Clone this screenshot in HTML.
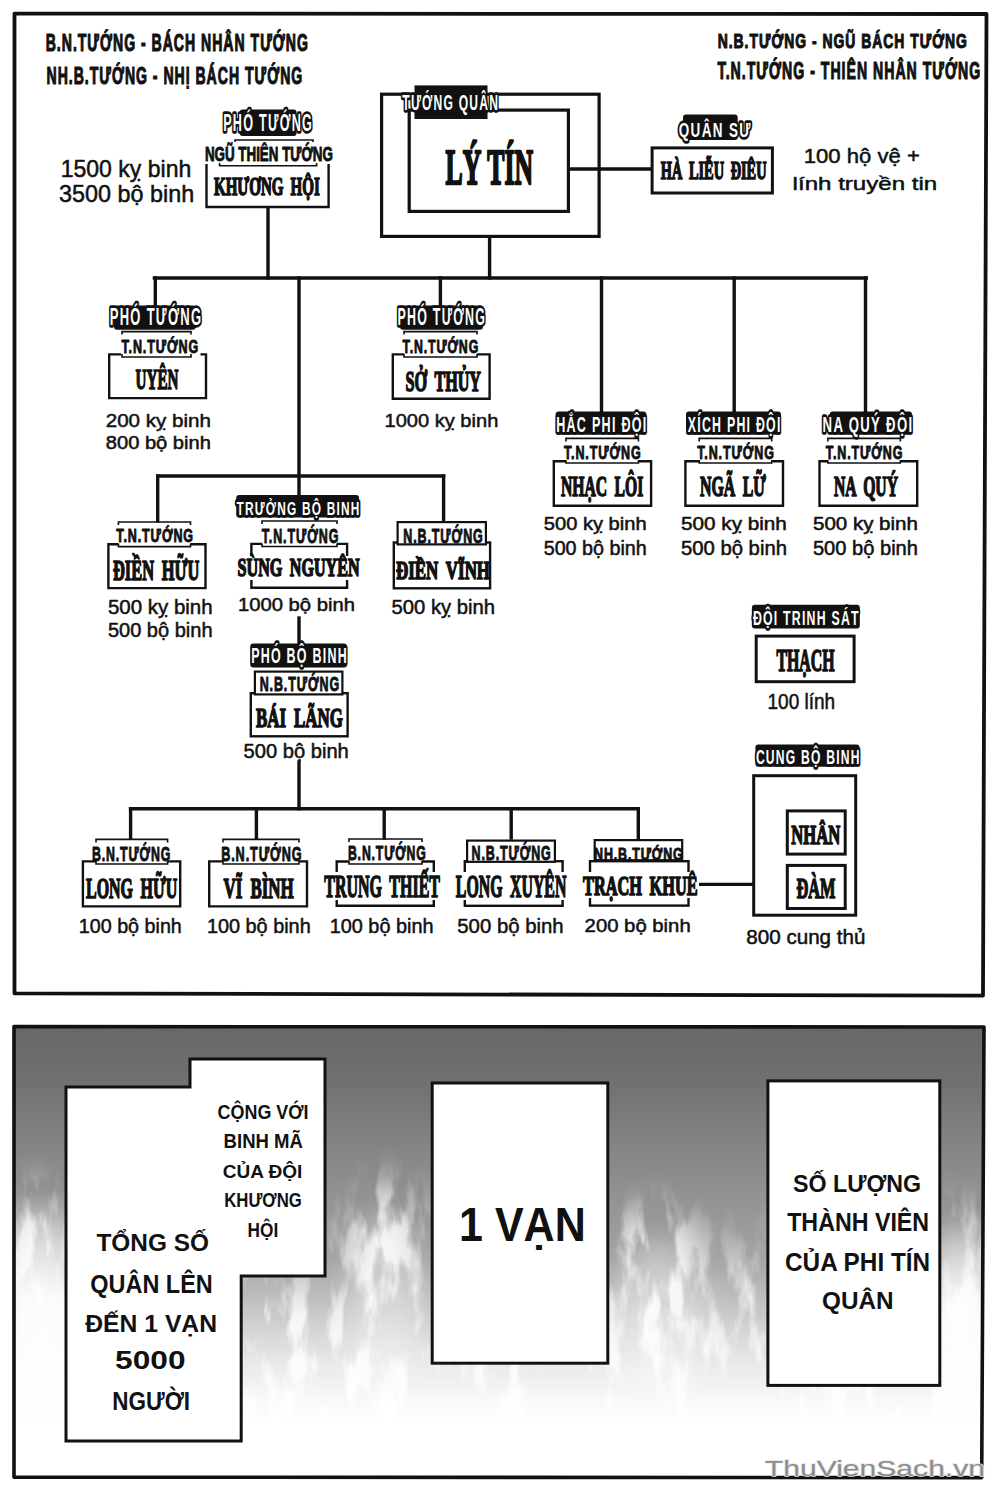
<!DOCTYPE html>
<html><head><meta charset="utf-8"><title>Phi Tin Quan</title>
<style>
html,body{margin:0;padding:0;background:#fff;width:999px;height:1492px;overflow:hidden;}
svg{display:block;}

</style></head><body>
<svg width="999" height="1492" viewBox="0 0 999 1492">

<defs>
<linearGradient id="bg" x1="0" y1="1026" x2="0" y2="1478" gradientUnits="userSpaceOnUse">
<stop offset="0" stop-color="#676767"/>
<stop offset="0.119" stop-color="#707070"/>
<stop offset="0.230" stop-color="#808080"/>
<stop offset="0.319" stop-color="#8b8b8b"/>
<stop offset="0.429" stop-color="#999999"/>
<stop offset="0.518" stop-color="#a6a6a6"/>
<stop offset="0.606" stop-color="#bfbfbf"/>
<stop offset="0.695" stop-color="#dbdbdb"/>
<stop offset="0.761" stop-color="#ececec"/>
<stop offset="0.827" stop-color="#f8f8f8"/>
<stop offset="0.883" stop-color="#ffffff"/>
<stop offset="1" stop-color="#ffffff"/>
</linearGradient>
<linearGradient id="fm" x1="0" y1="1200" x2="0" y2="1400" gradientUnits="userSpaceOnUse">
<stop offset="0" stop-color="#000"/>
<stop offset="0.5" stop-color="#666"/>
<stop offset="0.9" stop-color="#fff"/>
<stop offset="1" stop-color="#fff"/>
</linearGradient>
<filter id="mblur" x="-50%" y="-50%" width="200%" height="200%"><feGaussianBlur stdDeviation="18"/></filter>
<mask id="flmask" maskUnits="userSpaceOnUse" x="14" y="1100" width="970" height="380">
<rect x="14" y="1100" width="970" height="380" fill="url(#fm)"/>
<g fill="#fff" filter="url(#mblur)">
<ellipse cx="38" cy="1270" rx="35" ry="85"/>
<ellipse cx="385" cy="1285" rx="42" ry="105"/>
<ellipse cx="655" cy="1300" rx="50" ry="95"/>
<ellipse cx="962" cy="1275" rx="28" ry="75"/>
<ellipse cx="290" cy="1345" rx="45" ry="55"/>
<ellipse cx="752" cy="1300" rx="18" ry="45"/>
</g>
</mask>
<filter id="flame" x="14" y="1100" width="970" height="380" filterUnits="userSpaceOnUse">
<feTurbulence type="fractalNoise" baseFrequency="0.045 0.014" numOctaves="4" seed="7" result="n"/>
<feColorMatrix in="n" type="matrix" values="0 0 0 0 1  0 0 0 0 1  0 0 0 0 1  5 0 0 0 -2.3"/>
</filter>
<linearGradient id="edgeL" x1="0" y1="1190" x2="0" y2="1300" gradientUnits="userSpaceOnUse">
<stop offset="0" stop-color="#fff" stop-opacity="0"/>
<stop offset="1" stop-color="#fff" stop-opacity="0.92"/>
</linearGradient>
<linearGradient id="edgeR" x1="0" y1="1220" x2="0" y2="1315" gradientUnits="userSpaceOnUse">
<stop offset="0" stop-color="#fff" stop-opacity="0"/>
<stop offset="1" stop-color="#fff" stop-opacity="0.92"/>
</linearGradient>
<filter id="blur4" x="-20%" y="-20%" width="140%" height="140%"><feGaussianBlur stdDeviation="5"/></filter>
<filter id="blur8"><feGaussianBlur stdDeviation="14"/></filter>
</defs>
<path d="M14.5,13.6 L986.5,14 L983,995.6 L14.5,993.4 Z" fill="#fff" stroke="#111" stroke-width="3.8" stroke-linejoin="round"/>
<path d="M14,1026.6 L984,1027 L981.7,1477.6 L14,1477.2 Z" fill="url(#bg)"/>
<g mask="url(#flmask)"><rect x="16" y="1100" width="966" height="376" fill="#fff" filter="url(#flame)" opacity="0.85"/><g filter="url(#blur8)" fill="#fff" opacity="0.35"><ellipse cx="40" cy="1300" rx="30" ry="90"/><ellipse cx="385" cy="1300" rx="40" ry="90"/><ellipse cx="660" cy="1320" rx="50" ry="80"/><ellipse cx="960" cy="1300" rx="25" ry="80"/></g></g>
<g filter="url(#blur4)"><rect x="10" y="1190" width="62" height="290" fill="url(#edgeL)"/><rect x="936" y="1220" width="52" height="260" fill="url(#edgeR)"/></g>
<path d="M14,1026.6 L984,1027 L981.7,1477.6 L14,1477.2 Z" fill="none" stroke="#111" stroke-width="3.6" stroke-linejoin="round"/>
<text x="45.7" y="50.8" font-family='"Liberation Sans", sans-serif' font-weight="bold" font-size="23.26" textLength="263.2" lengthAdjust="spacingAndGlyphs" fill="#111" stroke="#111" stroke-width="1.1" stroke-linejoin="round" letter-spacing="1.63">B.N.TƯỚNG - BÁCH NHÂN TƯỚNG</text>
<text x="46.5" y="83.9" font-family='"Liberation Sans", sans-serif' font-weight="bold" font-size="23.69" textLength="256.7" lengthAdjust="spacingAndGlyphs" fill="#111" stroke="#111" stroke-width="1.1" stroke-linejoin="round" letter-spacing="1.66">NH.B.TƯỚNG - NHỊ BÁCH TƯỚNG</text>
<text x="717.7" y="48.2" font-family='"Liberation Sans", sans-serif' font-weight="bold" font-size="21.08" textLength="250.2" lengthAdjust="spacingAndGlyphs" fill="#111" stroke="#111" stroke-width="1.1" stroke-linejoin="round" letter-spacing="1.48">N.B.TƯỚNG - NGŨ BÁCH TƯỚNG</text>
<text x="717.6" y="78.7" font-family='"Liberation Sans", sans-serif' font-weight="bold" font-size="23.26" textLength="263.7" lengthAdjust="spacingAndGlyphs" fill="#111" stroke="#111" stroke-width="1.1" stroke-linejoin="round" letter-spacing="1.63">T.N.TƯỚNG - THIÊN NHÂN TƯỚNG</text>
<line x1="489.6" y1="238" x2="489.6" y2="278" stroke="#111" stroke-width="3.4" stroke-linecap="square"/>
<line x1="154.4" y1="278" x2="866.3" y2="278" stroke="#111" stroke-width="3.4" stroke-linecap="square"/>
<line x1="268" y1="207" x2="268" y2="278" stroke="#111" stroke-width="3.4" stroke-linecap="square"/>
<line x1="155.3" y1="278" x2="155.3" y2="306" stroke="#111" stroke-width="3.4" stroke-linecap="square"/>
<line x1="299" y1="278" x2="299" y2="496" stroke="#111" stroke-width="3.4" stroke-linecap="square"/>
<line x1="440.4" y1="278" x2="440.4" y2="306" stroke="#111" stroke-width="3.4" stroke-linecap="square"/>
<line x1="601.5" y1="278" x2="601.5" y2="412" stroke="#111" stroke-width="3.4" stroke-linecap="square"/>
<line x1="734.2" y1="278" x2="734.2" y2="412" stroke="#111" stroke-width="3.4" stroke-linecap="square"/>
<line x1="865.5" y1="278" x2="865.5" y2="412" stroke="#111" stroke-width="3.4" stroke-linecap="square"/>
<line x1="157.7" y1="476" x2="443.6" y2="476" stroke="#111" stroke-width="3.4" stroke-linecap="square"/>
<line x1="157.7" y1="476" x2="157.7" y2="521" stroke="#111" stroke-width="3.4" stroke-linecap="square"/>
<line x1="443.6" y1="476" x2="443.6" y2="521" stroke="#111" stroke-width="3.4" stroke-linecap="square"/>
<line x1="299" y1="618" x2="299" y2="644" stroke="#111" stroke-width="3.4" stroke-linecap="square"/>
<line x1="299" y1="762" x2="299" y2="808.7" stroke="#111" stroke-width="3.4" stroke-linecap="square"/>
<line x1="130.6" y1="808.7" x2="638.3" y2="808.7" stroke="#111" stroke-width="3.4" stroke-linecap="square"/>
<line x1="130.6" y1="808.7" x2="130.6" y2="838" stroke="#111" stroke-width="3.4" stroke-linecap="square"/>
<line x1="256.4" y1="808.7" x2="256.4" y2="838" stroke="#111" stroke-width="3.4" stroke-linecap="square"/>
<line x1="384.2" y1="808.7" x2="384.2" y2="838" stroke="#111" stroke-width="3.4" stroke-linecap="square"/>
<line x1="511.2" y1="808.7" x2="511.2" y2="838" stroke="#111" stroke-width="3.4" stroke-linecap="square"/>
<line x1="638.3" y1="808.7" x2="638.3" y2="838" stroke="#111" stroke-width="3.4" stroke-linecap="square"/>
<line x1="697" y1="884.4" x2="752.2" y2="884.4" stroke="#111" stroke-width="3.4" stroke-linecap="square"/>
<rect x="381.6" y="94.2" width="217.5" height="142.2" fill="#fff" stroke="#111" stroke-width="3.2"/>
<rect x="409.2" y="110.1" width="159.2" height="101.3" fill="#fff" stroke="#111" stroke-width="3.2"/>
<rect x="414.5" y="85.4" width="73.0" height="33.6" rx="0" fill="#111"/>
<text x="402.3" y="109.5" font-family='"Liberation Sans", sans-serif' font-weight="bold" font-size="22.53" textLength="96.8" lengthAdjust="spacingAndGlyphs" fill="#fff" stroke="#111" stroke-width="5.5" stroke-linejoin="round" paint-order="stroke" letter-spacing="2.25">TƯỚNG QUÂN</text>
<text x="445.5" y="183.6" font-family='"Liberation Serif", serif' font-weight="bold" font-size="50.53" textLength="87.5" lengthAdjust="spacingAndGlyphs" fill="#111" stroke="#111" stroke-width="2.4" stroke-linejoin="round">LÝ TÍN</text>
<line x1="570" y1="169" x2="650.6" y2="169" stroke="#111" stroke-width="3.4" stroke-linecap="square"/>
<rect x="239.7" y="109.6" width="56.9" height="26.4" rx="3" fill="#111"/>
<text x="223.2" y="131.0" font-family='"Liberation Sans", sans-serif' font-weight="bold" font-size="23.26" textLength="89.9" lengthAdjust="spacingAndGlyphs" fill="#fff" stroke="#111" stroke-width="5.5" stroke-linejoin="round" paint-order="stroke" letter-spacing="2.33">PHÓ TƯỚNG</text>
<path d="M206.5,164 V207 H328.6 V164" fill="#fff" stroke="#111" stroke-width="2.4"/>
<path d="M235,142 V140 H313 V142" fill="none" stroke="#111" stroke-width="1.6"/>
<path d="M219.6,163 V165.7 H316.6 V163" fill="none" stroke="#111" stroke-width="1.6"/>
<text x="204.9" y="161.0" font-family='"Liberation Sans", sans-serif' font-weight="bold" font-size="19.91" textLength="128.0" lengthAdjust="spacingAndGlyphs" fill="#111" stroke="#111" stroke-width="0.9" stroke-linejoin="round">NGŨ THIÊN TƯỚNG</text>
<text x="214.0" y="195.4" font-family='"Liberation Serif", serif' font-weight="bold" font-size="25.80" textLength="105.8" lengthAdjust="spacingAndGlyphs" fill="#111" stroke="#111" stroke-width="1.6" stroke-linejoin="round" word-spacing="5.7">KHƯƠNG HỘI</text>
<text x="60.7" y="177.0" font-family='"Liberation Sans", sans-serif' font-weight="normal" font-size="23.26" textLength="130.6" lengthAdjust="spacingAndGlyphs" fill="#111" stroke="#111" stroke-width="0.5" stroke-linejoin="round">1500 kỵ binh</text>
<text x="59.1" y="201.9" font-family='"Liberation Sans", sans-serif' font-weight="normal" font-size="23.40" textLength="135.2" lengthAdjust="spacingAndGlyphs" fill="#111" stroke="#111" stroke-width="0.5" stroke-linejoin="round">3500 bộ binh</text>
<rect x="683" y="114.4" width="54.7" height="25.6" rx="3" fill="#111"/>
<text x="678.8" y="137.0" font-family='"Liberation Sans", sans-serif' font-weight="bold" font-size="21.08" textLength="73.0" lengthAdjust="spacingAndGlyphs" fill="#fff" stroke="#111" stroke-width="5.5" stroke-linejoin="round" paint-order="stroke" letter-spacing="2.11">QUÂN SƯ</text>
<rect x="652.1" y="147.9" width="120.3" height="45.1" fill="#fff" stroke="#111" stroke-width="3.0"/>
<text x="660.8" y="178.5" font-family='"Liberation Serif", serif' font-weight="bold" font-size="24.43" textLength="105.7" lengthAdjust="spacingAndGlyphs" fill="#111" stroke="#111" stroke-width="1.6" stroke-linejoin="round" word-spacing="5.4">HÀ LIỄU ĐIÊU</text>
<text x="803.8" y="162.5" font-family='"Liberation Sans", sans-serif' font-weight="normal" font-size="21.08" textLength="116.0" lengthAdjust="spacingAndGlyphs" fill="#111" stroke="#111" stroke-width="0.5" stroke-linejoin="round">100 hộ vệ +</text>
<text x="792.6" y="189.7" font-family='"Liberation Sans", sans-serif' font-weight="normal" font-size="19.19" textLength="144.7" lengthAdjust="spacingAndGlyphs" fill="#111" stroke="#111" stroke-width="0.5" stroke-linejoin="round">lính truyền tin</text>
<rect x="114" y="305.6" width="81.7" height="24.1" rx="3" fill="#111"/>
<text x="109.7" y="325.0" font-family='"Liberation Sans", sans-serif' font-weight="bold" font-size="23.26" textLength="92.7" lengthAdjust="spacingAndGlyphs" fill="#fff" stroke="#111" stroke-width="5.5" stroke-linejoin="round" paint-order="stroke" letter-spacing="2.33">PHÓ TƯỚNG</text>
<path d="M121,354.4 H109.2 V398.1 H206.0 V354.4 H200.5" fill="#fff" stroke="#111" stroke-width="2.4"/>
<path d="M122,334.6 V331.6 H191 V334.6" fill="none" stroke="#111" stroke-width="1.6"/>
<path d="M122,354 V357 H191 V354" fill="none" stroke="#111" stroke-width="1.6"/>
<text x="121.4" y="352.5" font-family='"Liberation Sans", sans-serif' font-weight="bold" font-size="18.46" textLength="77.7" lengthAdjust="spacingAndGlyphs" fill="#111" stroke="#111" stroke-width="0.9" stroke-linejoin="round" letter-spacing="1.29">T.N.TƯỚNG</text>
<text x="135.6" y="388.5" font-family='"Liberation Serif", serif' font-weight="bold" font-size="29.31" textLength="42.8" lengthAdjust="spacingAndGlyphs" fill="#111" stroke="#111" stroke-width="1.6" stroke-linejoin="round" word-spacing="6.4">UYÊN</text>
<text x="105.7" y="427.0" font-family='"Liberation Sans", sans-serif' font-weight="normal" font-size="19.19" textLength="105.3" lengthAdjust="spacingAndGlyphs" fill="#111" stroke="#111" stroke-width="0.5" stroke-linejoin="round">200 kỵ binh</text>
<text x="105.8" y="448.6" font-family='"Liberation Sans", sans-serif' font-weight="normal" font-size="17.44" textLength="105.1" lengthAdjust="spacingAndGlyphs" fill="#111" stroke="#111" stroke-width="0.5" stroke-linejoin="round">800 bộ binh</text>
<rect x="400" y="305.6" width="83.0" height="24.1" rx="3" fill="#111"/>
<text x="397.5" y="325.0" font-family='"Liberation Sans", sans-serif' font-weight="bold" font-size="23.26" textLength="88.6" lengthAdjust="spacingAndGlyphs" fill="#fff" stroke="#111" stroke-width="5.5" stroke-linejoin="round" paint-order="stroke" letter-spacing="2.33">PHÓ TƯỚNG</text>
<path d="M404,354.4 H392.8 V398.8 H489.6 V354.4 H477" fill="#fff" stroke="#111" stroke-width="2.4"/>
<path d="M404,334.6 V331.6 H477 V334.6" fill="none" stroke="#111" stroke-width="1.6"/>
<path d="M404,354 V357 H477 V354" fill="none" stroke="#111" stroke-width="1.6"/>
<text x="402.6" y="352.5" font-family='"Liberation Sans", sans-serif' font-weight="bold" font-size="18.46" textLength="76.5" lengthAdjust="spacingAndGlyphs" fill="#111" stroke="#111" stroke-width="0.9" stroke-linejoin="round" letter-spacing="1.29">T.N.TƯỚNG</text>
<text x="405.6" y="391.0" font-family='"Liberation Serif", serif' font-weight="bold" font-size="29.47" textLength="75.4" lengthAdjust="spacingAndGlyphs" fill="#111" stroke="#111" stroke-width="1.6" stroke-linejoin="round" word-spacing="6.5">SỞ THỦY</text>
<text x="384.5" y="427.0" font-family='"Liberation Sans", sans-serif' font-weight="normal" font-size="19.19" textLength="113.8" lengthAdjust="spacingAndGlyphs" fill="#111" stroke="#111" stroke-width="0.5" stroke-linejoin="round">1000 kỵ binh</text>
<rect x="555.6" y="411.4" width="90.7" height="23.4" rx="3" fill="#111"/>
<text x="556.2" y="431.8" font-family='"Liberation Sans", sans-serif' font-weight="bold" font-size="22.67" textLength="91.4" lengthAdjust="spacingAndGlyphs" fill="#fff" stroke="#111" stroke-width="5.5" stroke-linejoin="round" paint-order="stroke" letter-spacing="2.27">HẮC PHI ĐỘI</text>
<path d="M565.95,461.2 H553.8000000000001 V505.7 H651.0999999999999 V461.2 H638.95" fill="#fff" stroke="#111" stroke-width="2.4"/>
<path d="M565.95,441.4 V438.4 H638.45 V441.4" fill="none" stroke="#111" stroke-width="1.6"/>
<path d="M565.95,460 V463 H638.45 V460" fill="none" stroke="#111" stroke-width="1.6"/>
<text x="563.9" y="458.9" font-family='"Liberation Sans", sans-serif' font-weight="bold" font-size="18.46" textLength="77.6" lengthAdjust="spacingAndGlyphs" fill="#111" stroke="#111" stroke-width="0.9" stroke-linejoin="round" letter-spacing="1.29">T.N.TƯỚNG</text>
<text x="561.0" y="496.1" font-family='"Liberation Serif", serif' font-weight="bold" font-size="29.31" textLength="82.3" lengthAdjust="spacingAndGlyphs" fill="#111" stroke="#111" stroke-width="1.6" stroke-linejoin="round" word-spacing="6.4">NHẠC LÔI</text>
<text x="543.8" y="530.3" font-family='"Liberation Sans", sans-serif' font-weight="normal" font-size="17.44" textLength="102.8" lengthAdjust="spacingAndGlyphs" fill="#111" stroke="#111" stroke-width="0.5" stroke-linejoin="round">500 kỵ binh</text>
<text x="543.7" y="555.0" font-family='"Liberation Sans", sans-serif' font-weight="normal" font-size="19.33" textLength="103.0" lengthAdjust="spacingAndGlyphs" fill="#111" stroke="#111" stroke-width="0.5" stroke-linejoin="round">500 bộ binh</text>
<rect x="686" y="411.4" width="95.0" height="23.4" rx="3" fill="#111"/>
<text x="687.8" y="431.8" font-family='"Liberation Sans", sans-serif' font-weight="bold" font-size="22.67" textLength="93.8" lengthAdjust="spacingAndGlyphs" fill="#fff" stroke="#111" stroke-width="5.5" stroke-linejoin="round" paint-order="stroke" letter-spacing="2.27">XÍCH PHI ĐỘI</text>
<path d="M699.2,461.2 H685.4000000000001 V505.7 H783.0 V461.2 H772.2" fill="#fff" stroke="#111" stroke-width="2.4"/>
<path d="M699.2,441.4 V438.4 H771.7 V441.4" fill="none" stroke="#111" stroke-width="1.6"/>
<path d="M699.2,460 V463 H771.7 V460" fill="none" stroke="#111" stroke-width="1.6"/>
<text x="697.2" y="458.9" font-family='"Liberation Sans", sans-serif' font-weight="bold" font-size="18.46" textLength="77.6" lengthAdjust="spacingAndGlyphs" fill="#111" stroke="#111" stroke-width="0.9" stroke-linejoin="round" letter-spacing="1.29">T.N.TƯỚNG</text>
<text x="700.0" y="496.1" font-family='"Liberation Serif", serif' font-weight="bold" font-size="29.31" textLength="66.0" lengthAdjust="spacingAndGlyphs" fill="#111" stroke="#111" stroke-width="1.6" stroke-linejoin="round" word-spacing="6.4">NGÃ LỮ</text>
<text x="681.0" y="530.3" font-family='"Liberation Sans", sans-serif' font-weight="normal" font-size="17.44" textLength="105.9" lengthAdjust="spacingAndGlyphs" fill="#111" stroke="#111" stroke-width="0.5" stroke-linejoin="round">500 kỵ binh</text>
<text x="680.9" y="555.0" font-family='"Liberation Sans", sans-serif' font-weight="normal" font-size="19.33" textLength="106.1" lengthAdjust="spacingAndGlyphs" fill="#111" stroke="#111" stroke-width="0.5" stroke-linejoin="round">500 bộ binh</text>
<rect x="829.8" y="411.4" width="82.2" height="23.4" rx="3" fill="#111"/>
<text x="822.6" y="431.8" font-family='"Liberation Sans", sans-serif' font-weight="bold" font-size="22.67" textLength="90.8" lengthAdjust="spacingAndGlyphs" fill="#fff" stroke="#111" stroke-width="5.5" stroke-linejoin="round" paint-order="stroke" letter-spacing="2.27">NA QUÝ ĐỘI</text>
<path d="M827.8499999999999,461.2 H819.5 V505.7 H917.1999999999999 V461.2 H900.8499999999999" fill="#fff" stroke="#111" stroke-width="2.4"/>
<path d="M827.8499999999999,441.4 V438.4 H900.3499999999999 V441.4" fill="none" stroke="#111" stroke-width="1.6"/>
<path d="M827.8499999999999,460 V463 H900.3499999999999 V460" fill="none" stroke="#111" stroke-width="1.6"/>
<text x="825.8" y="458.9" font-family='"Liberation Sans", sans-serif' font-weight="bold" font-size="18.46" textLength="77.6" lengthAdjust="spacingAndGlyphs" fill="#111" stroke="#111" stroke-width="0.9" stroke-linejoin="round" letter-spacing="1.29">T.N.TƯỚNG</text>
<text x="834.0" y="496.1" font-family='"Liberation Serif", serif' font-weight="bold" font-size="29.31" textLength="64.0" lengthAdjust="spacingAndGlyphs" fill="#111" stroke="#111" stroke-width="1.6" stroke-linejoin="round" word-spacing="6.4">NA QUÝ</text>
<text x="813.0" y="530.3" font-family='"Liberation Sans", sans-serif' font-weight="normal" font-size="17.44" textLength="104.9" lengthAdjust="spacingAndGlyphs" fill="#111" stroke="#111" stroke-width="0.5" stroke-linejoin="round">500 kỵ binh</text>
<text x="812.9" y="555.0" font-family='"Liberation Sans", sans-serif' font-weight="normal" font-size="19.33" textLength="105.1" lengthAdjust="spacingAndGlyphs" fill="#111" stroke="#111" stroke-width="0.5" stroke-linejoin="round">500 bộ binh</text>
<path d="M118.4,544.2 H108.4 V588.0999999999999 H205.5 V544.2 H190.5" fill="#fff" stroke="#111" stroke-width="2.4"/>
<path d="M118.4,525 V522 H190.5 V525" fill="none" stroke="#111" stroke-width="1.6"/>
<path d="M118.4,543.6 V546.6 H190.5 V543.6" fill="none" stroke="#111" stroke-width="1.6"/>
<text x="116.3" y="542.0" font-family='"Liberation Sans", sans-serif' font-weight="bold" font-size="18.31" textLength="77.7" lengthAdjust="spacingAndGlyphs" fill="#111" stroke="#111" stroke-width="0.9" stroke-linejoin="round" letter-spacing="1.28">T.N.TƯỚNG</text>
<text x="113.0" y="579.8" font-family='"Liberation Serif", serif' font-weight="bold" font-size="28.70" textLength="86.3" lengthAdjust="spacingAndGlyphs" fill="#111" stroke="#111" stroke-width="1.6" stroke-linejoin="round" word-spacing="6.3">ĐIỀN HỮU</text>
<text x="107.9" y="613.5" font-family='"Liberation Sans", sans-serif' font-weight="normal" font-size="19.91" textLength="104.7" lengthAdjust="spacingAndGlyphs" fill="#111" stroke="#111" stroke-width="0.5" stroke-linejoin="round">500 kỵ binh</text>
<text x="107.9" y="636.6" font-family='"Liberation Sans", sans-serif' font-weight="normal" font-size="19.77" textLength="104.7" lengthAdjust="spacingAndGlyphs" fill="#111" stroke="#111" stroke-width="0.5" stroke-linejoin="round">500 bộ binh</text>
<rect x="236.2" y="495" width="122.8" height="22.5" rx="3" fill="#111"/>
<text x="236.5" y="514.6" font-family='"Liberation Sans", sans-serif' font-weight="bold" font-size="18.31" textLength="124.0" lengthAdjust="spacingAndGlyphs" fill="#fff" stroke="#111" stroke-width="5.5" stroke-linejoin="round" paint-order="stroke" letter-spacing="1.83">TRƯỞNG BỘ BINH</text>
<path d="M262,543.9000000000001 H251.39999999999998 V587.8 H347.1 V543.9000000000001 H337" fill="#fff" stroke="#111" stroke-width="2.4"/>
<path d="M262,524 V521 H337 V524" fill="none" stroke="#111" stroke-width="1.6"/>
<path d="M262,543.5 V546.5 H337 V543.5" fill="none" stroke="#111" stroke-width="1.6"/>
<text x="261.7" y="542.7" font-family='"Liberation Sans", sans-serif' font-weight="bold" font-size="20.35" textLength="77.6" lengthAdjust="spacingAndGlyphs" fill="#111" stroke="#111" stroke-width="0.9" stroke-linejoin="round" letter-spacing="1.42">T.N.TƯỚNG</text>
<rect x="237" y="556" width="123.0" height="24.0" fill="#fff"/>
<text x="237.6" y="576.3" font-family='"Liberation Serif", serif' font-weight="bold" font-size="25.65" textLength="121.9" lengthAdjust="spacingAndGlyphs" fill="#111" stroke="#111" stroke-width="1.6" stroke-linejoin="round" word-spacing="5.6">SÙNG NGUYÊN</text>
<text x="238.0" y="611.3" font-family='"Liberation Sans", sans-serif' font-weight="normal" font-size="18.31" textLength="117.0" lengthAdjust="spacingAndGlyphs" fill="#111" stroke="#111" stroke-width="0.5" stroke-linejoin="round">1000 bộ binh</text>
<rect x="393.8" y="542.5" width="96.3" height="45.8" fill="#fff" stroke="#111" stroke-width="2.4"/>
<rect x="397.6" y="522.1" width="88.3" height="22.3" fill="#fff" stroke="#111" stroke-width="2.2"/>
<text x="403.3" y="542.7" font-family='"Liberation Sans", sans-serif' font-weight="bold" font-size="20.35" textLength="80.4" lengthAdjust="spacingAndGlyphs" fill="#111" stroke="#111" stroke-width="0.9" stroke-linejoin="round" letter-spacing="1.42">N.B.TƯỚNG</text>
<text x="396.0" y="579.0" font-family='"Liberation Serif", serif' font-weight="bold" font-size="25.50" textLength="94.0" lengthAdjust="spacingAndGlyphs" fill="#111" stroke="#111" stroke-width="1.6" stroke-linejoin="round" word-spacing="5.6">ĐIỀN VĨNH</text>
<text x="391.5" y="613.6" font-family='"Liberation Sans", sans-serif' font-weight="normal" font-size="19.77" textLength="103.6" lengthAdjust="spacingAndGlyphs" fill="#111" stroke="#111" stroke-width="0.5" stroke-linejoin="round">500 kỵ binh</text>
<rect x="250.3" y="643.6" width="96.7" height="23.9" rx="3" fill="#111"/>
<text x="251.2" y="662.5" font-family='"Liberation Sans", sans-serif' font-weight="bold" font-size="21.37" textLength="96.7" lengthAdjust="spacingAndGlyphs" fill="#fff" stroke="#111" stroke-width="5.5" stroke-linejoin="round" paint-order="stroke" letter-spacing="2.14">PHÓ BỘ BINH</text>
<rect x="250.8" y="693.2" width="96.8" height="43.1" fill="#fff" stroke="#111" stroke-width="2.4"/>
<rect x="254.9" y="671.6" width="87.5" height="22.8" fill="#fff" stroke="#111" stroke-width="2.2"/>
<text x="259.7" y="691.3" font-family='"Liberation Sans", sans-serif' font-weight="bold" font-size="19.33" textLength="80.3" lengthAdjust="spacingAndGlyphs" fill="#111" stroke="#111" stroke-width="0.9" stroke-linejoin="round" letter-spacing="1.35">N.B.TƯỚNG</text>
<text x="256.0" y="727.0" font-family='"Liberation Serif", serif' font-weight="bold" font-size="27.79" textLength="86.8" lengthAdjust="spacingAndGlyphs" fill="#111" stroke="#111" stroke-width="1.6" stroke-linejoin="round" word-spacing="6.1">BÁI LÃNG</text>
<text x="243.6" y="757.8" font-family='"Liberation Sans", sans-serif' font-weight="normal" font-size="20.35" textLength="105.2" lengthAdjust="spacingAndGlyphs" fill="#111" stroke="#111" stroke-width="0.5" stroke-linejoin="round">500 bộ binh</text>
<path d="M96,861.4000000000001 H82.9 V906.4 H180.20000000000002 V861.4000000000001 H167.6" fill="#fff" stroke="#111" stroke-width="2.4"/>
<path d="M96,842.4 V839.4 H167.6 V842.4" fill="none" stroke="#111" stroke-width="1.6"/>
<path d="M96,861 V864 H167.6 V861" fill="none" stroke="#111" stroke-width="1.6"/>
<text x="91.9" y="861.0" font-family='"Liberation Sans", sans-serif' font-weight="bold" font-size="20.06" textLength="79.3" lengthAdjust="spacingAndGlyphs" fill="#111" stroke="#111" stroke-width="0.9" stroke-linejoin="round" letter-spacing="1.40">B.N.TƯỚNG</text>
<text x="86.0" y="898.0" font-family='"Liberation Serif", serif' font-weight="bold" font-size="29.92" textLength="91.2" lengthAdjust="spacingAndGlyphs" fill="#111" stroke="#111" stroke-width="1.6" stroke-linejoin="round" word-spacing="6.6">LONG HỮU</text>
<text x="78.8" y="933.0" font-family='"Liberation Sans", sans-serif' font-weight="normal" font-size="20.64" textLength="103.0" lengthAdjust="spacingAndGlyphs" fill="#111" stroke="#111" stroke-width="0.5" stroke-linejoin="round">100 bộ binh</text>
<path d="M223,861.4000000000001 H209.2 V906.4 H307.0 V861.4000000000001 H299" fill="#fff" stroke="#111" stroke-width="2.4"/>
<path d="M223,842.4 V839.4 H299 V842.4" fill="none" stroke="#111" stroke-width="1.6"/>
<path d="M223,861 V864 H299 V861" fill="none" stroke="#111" stroke-width="1.6"/>
<text x="221.2" y="861.0" font-family='"Liberation Sans", sans-serif' font-weight="bold" font-size="20.06" textLength="81.3" lengthAdjust="spacingAndGlyphs" fill="#111" stroke="#111" stroke-width="0.9" stroke-linejoin="round" letter-spacing="1.40">B.N.TƯỚNG</text>
<text x="223.6" y="898.0" font-family='"Liberation Serif", serif' font-weight="bold" font-size="29.92" textLength="70.2" lengthAdjust="spacingAndGlyphs" fill="#111" stroke="#111" stroke-width="1.6" stroke-linejoin="round" word-spacing="6.6">VĨ BÌNH</text>
<text x="206.9" y="933.0" font-family='"Liberation Sans", sans-serif' font-weight="normal" font-size="20.64" textLength="103.8" lengthAdjust="spacingAndGlyphs" fill="#111" stroke="#111" stroke-width="0.5" stroke-linejoin="round">100 bộ binh</text>
<path d="M349,861.5 H336.7 V905.8 H433.8 V861.5 H422" fill="#fff" stroke="#111" stroke-width="2.4"/>
<path d="M349,842 V839 H422 V842" fill="none" stroke="#111" stroke-width="1.6"/>
<path d="M349,861 V864 H422 V861" fill="none" stroke="#111" stroke-width="1.6"/>
<text x="347.9" y="860.3" font-family='"Liberation Sans", sans-serif' font-weight="bold" font-size="20.06" textLength="78.8" lengthAdjust="spacingAndGlyphs" fill="#111" stroke="#111" stroke-width="0.9" stroke-linejoin="round" letter-spacing="1.40">B.N.TƯỚNG</text>
<rect x="323" y="872" width="119.0" height="28.0" fill="#fff"/>
<text x="324.3" y="896.7" font-family='"Liberation Serif", serif' font-weight="bold" font-size="31.60" textLength="115.7" lengthAdjust="spacingAndGlyphs" fill="#111" stroke="#111" stroke-width="1.6" stroke-linejoin="round" word-spacing="7.0">TRUNG THIẾT</text>
<text x="329.7" y="933.0" font-family='"Liberation Sans", sans-serif' font-weight="normal" font-size="20.64" textLength="103.8" lengthAdjust="spacingAndGlyphs" fill="#111" stroke="#111" stroke-width="0.5" stroke-linejoin="round">100 bộ binh</text>
<rect x="464.8" y="861.2" width="97.8" height="44.6" fill="#fff" stroke="#111" stroke-width="2.4"/>
<rect x="467.1" y="840.6" width="87.8" height="21.2" fill="#fff" stroke="#111" stroke-width="2.2"/>
<text x="471.6" y="860.3" font-family='"Liberation Sans", sans-serif' font-weight="bold" font-size="20.06" textLength="80.1" lengthAdjust="spacingAndGlyphs" fill="#111" stroke="#111" stroke-width="0.9" stroke-linejoin="round" letter-spacing="1.40">N.B.TƯỚNG</text>
<rect x="455" y="872" width="112.0" height="28.0" fill="#fff"/>
<text x="455.8" y="896.7" font-family='"Liberation Serif", serif' font-weight="bold" font-size="31.60" textLength="110.6" lengthAdjust="spacingAndGlyphs" fill="#111" stroke="#111" stroke-width="1.6" stroke-linejoin="round" word-spacing="7.0">LONG XUYÊN</text>
<text x="457.3" y="933.0" font-family='"Liberation Sans", sans-serif' font-weight="normal" font-size="20.64" textLength="106.4" lengthAdjust="spacingAndGlyphs" fill="#111" stroke="#111" stroke-width="0.5" stroke-linejoin="round">500 bộ binh</text>
<rect x="590.0" y="861.2" width="98.5" height="44.4" fill="#fff" stroke="#111" stroke-width="2.4"/>
<rect x="594.7" y="840.1" width="87.5" height="20.1" fill="#fff" stroke="#111" stroke-width="2.2"/>
<text x="594.1" y="859.7" font-family='"Liberation Sans", sans-serif' font-weight="bold" font-size="17.15" textLength="89.5" lengthAdjust="spacingAndGlyphs" fill="#111" stroke="#111" stroke-width="0.9" stroke-linejoin="round" letter-spacing="1.20">NH.B.TƯỚNG</text>
<rect x="582" y="872" width="117.0" height="26.0" fill="#fff"/>
<text x="583.0" y="895.0" font-family='"Liberation Serif", serif' font-weight="bold" font-size="27.02" textLength="114.7" lengthAdjust="spacingAndGlyphs" fill="#111" stroke="#111" stroke-width="1.6" stroke-linejoin="round" word-spacing="5.9">TRẠCH KHUÊ</text>
<text x="584.6" y="931.8" font-family='"Liberation Sans", sans-serif' font-weight="normal" font-size="18.60" textLength="106.1" lengthAdjust="spacingAndGlyphs" fill="#111" stroke="#111" stroke-width="0.5" stroke-linejoin="round">200 bộ binh</text>
<rect x="755.4" y="744.4" width="104.1" height="22.4" rx="3" fill="#111"/>
<text x="755.9" y="763.6" font-family='"Liberation Sans", sans-serif' font-weight="bold" font-size="19.91" textLength="104.8" lengthAdjust="spacingAndGlyphs" fill="#fff" stroke="#111" stroke-width="5.5" stroke-linejoin="round" paint-order="stroke" letter-spacing="1.99">CUNG BỘ BINH</text>
<rect x="753.7" y="775.7" width="102.0" height="139.5" fill="#fff" stroke="#111" stroke-width="3.0"/>
<rect x="787.3" y="810.9" width="57.9" height="43.2" fill="#fff" stroke="#111" stroke-width="3.0"/>
<rect x="787.3" y="865.4" width="57.9" height="43.1" fill="#fff" stroke="#111" stroke-width="3.0"/>
<text x="791.3" y="844.3" font-family='"Liberation Serif", serif' font-weight="bold" font-size="27.94" textLength="49.0" lengthAdjust="spacingAndGlyphs" fill="#111" stroke="#111" stroke-width="1.6" stroke-linejoin="round" word-spacing="6.1">NHÂN</text>
<text x="796.4" y="898.2" font-family='"Liberation Serif", serif' font-weight="bold" font-size="30.38" textLength="39.1" lengthAdjust="spacingAndGlyphs" fill="#111" stroke="#111" stroke-width="1.6" stroke-linejoin="round" word-spacing="6.7">ĐÀM</text>
<text x="746.3" y="944.0" font-family='"Liberation Sans", sans-serif' font-weight="normal" font-size="20.06" textLength="119.1" lengthAdjust="spacingAndGlyphs" fill="#111" stroke="#111" stroke-width="0.5" stroke-linejoin="round">800 cung thủ</text>
<rect x="751.9" y="604.7" width="107.9" height="23.8" rx="3" fill="#111"/>
<text x="752.9" y="625.0" font-family='"Liberation Sans", sans-serif' font-weight="bold" font-size="20.78" textLength="106.9" lengthAdjust="spacingAndGlyphs" fill="#fff" stroke="#111" stroke-width="5.5" stroke-linejoin="round" paint-order="stroke" letter-spacing="2.08">ĐỘI TRINH SÁT</text>
<rect x="756.2" y="636.1" width="97.9" height="45.6" fill="#fff" stroke="#111" stroke-width="3.0"/>
<text x="776.4" y="670.6" font-family='"Liberation Serif", serif' font-weight="bold" font-size="30.99" textLength="58.2" lengthAdjust="spacingAndGlyphs" fill="#111" stroke="#111" stroke-width="1.6" stroke-linejoin="round" word-spacing="6.8">THẠCH</text>
<text x="767.5" y="709.1" font-family='"Liberation Sans", sans-serif' font-weight="normal" font-size="21.37" textLength="67.6" lengthAdjust="spacingAndGlyphs" fill="#111" stroke="#111" stroke-width="0.5" stroke-linejoin="round">100 lính</text>
<path d="M66,1087 H190 V1059 H325 V1276 H241.2 V1441 H66 Z" fill="#fff" stroke="#111" stroke-width="3"/>
<rect x="432.2" y="1083.0" width="175.6" height="280.2" fill="#fff" stroke="#111" stroke-width="3.0"/>
<rect x="767.9" y="1080.9" width="171.9" height="304.5" fill="#fff" stroke="#111" stroke-width="3.0"/>
<text x="217.6" y="1118.7" font-family='"Liberation Sans", sans-serif' font-weight="bold" font-size="20.49" textLength="90.9" lengthAdjust="spacingAndGlyphs" fill="#111">CỘNG VỚI</text>
<text x="223.6" y="1148.1" font-family='"Liberation Sans", sans-serif' font-weight="bold" font-size="19.62" textLength="79.4" lengthAdjust="spacingAndGlyphs" fill="#111">BINH MÃ</text>
<text x="222.8" y="1177.5" font-family='"Liberation Sans", sans-serif' font-weight="bold" font-size="18.75" textLength="79.6" lengthAdjust="spacingAndGlyphs" fill="#111">CỦA ĐỘI</text>
<text x="224.2" y="1206.7" font-family='"Liberation Sans", sans-serif' font-weight="bold" font-size="19.62" textLength="77.6" lengthAdjust="spacingAndGlyphs" fill="#111">KHƯƠNG</text>
<text x="247.6" y="1236.7" font-family='"Liberation Sans", sans-serif' font-weight="bold" font-size="19.62" textLength="30.7" lengthAdjust="spacingAndGlyphs" fill="#111">HỘI</text>
<text x="96.4" y="1251.4" font-family='"Liberation Sans", sans-serif' font-weight="bold" font-size="24.42" textLength="112.6" lengthAdjust="spacingAndGlyphs" fill="#111">TỔNG SỐ</text>
<text x="90.3" y="1292.6" font-family='"Liberation Sans", sans-serif' font-weight="bold" font-size="26.16" textLength="122.4" lengthAdjust="spacingAndGlyphs" fill="#111">QUÂN LÊN</text>
<text x="85.2" y="1331.6" font-family='"Liberation Sans", sans-serif' font-weight="bold" font-size="24.13" textLength="131.9" lengthAdjust="spacingAndGlyphs" fill="#111">ĐẾN 1 VẠN</text>
<text x="115.1" y="1369.2" font-family='"Liberation Sans", sans-serif' font-weight="bold" font-size="26.45" textLength="70.4" lengthAdjust="spacingAndGlyphs" fill="#111">5000</text>
<text x="112.2" y="1409.7" font-family='"Liberation Sans", sans-serif' font-weight="bold" font-size="26.16" textLength="77.9" lengthAdjust="spacingAndGlyphs" fill="#111">NGƯỜI</text>
<text x="459.1" y="1241.3" font-family='"Liberation Sans", sans-serif' font-weight="bold" font-size="48.40" textLength="126.6" lengthAdjust="spacingAndGlyphs" fill="#111">1 VẠN</text>
<text x="793.0" y="1192.0" font-family='"Liberation Sans", sans-serif' font-weight="bold" font-size="24.71" textLength="128.0" lengthAdjust="spacingAndGlyphs" fill="#111">SỐ LƯỢNG</text>
<text x="787.2" y="1230.8" font-family='"Liberation Sans", sans-serif' font-weight="bold" font-size="26.45" textLength="141.9" lengthAdjust="spacingAndGlyphs" fill="#111">THÀNH VIÊN</text>
<text x="785.0" y="1270.7" font-family='"Liberation Sans", sans-serif' font-weight="bold" font-size="24.85" textLength="145.1" lengthAdjust="spacingAndGlyphs" fill="#111">CỦA PHI TÍN</text>
<text x="822.0" y="1309.4" font-family='"Liberation Sans", sans-serif' font-weight="bold" font-size="23.11" textLength="71.6" lengthAdjust="spacingAndGlyphs" fill="#111">QUÂN</text>
<text x="764.8" y="1475.7" font-family='"Liberation Sans", sans-serif' font-weight="normal" font-size="22.53" textLength="220.2" lengthAdjust="spacingAndGlyphs" fill="#8c8c8c" stroke="#e8e8e8" stroke-width="1.5" stroke-linejoin="round" paint-order="stroke">ThuVienSach.vn</text>
</svg>
</body></html>
